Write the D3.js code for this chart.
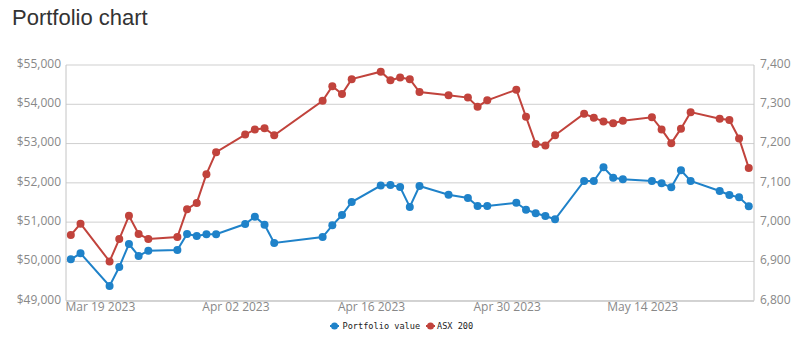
<!DOCTYPE html>
<html>
<head>
<meta charset="utf-8">
<script src="https://cdn.jsdelivr.net/npm/d3@7"></script>
<style>
  html, body { margin: 0; padding: 0; background: #fff; }
  svg { display: block; }
</style>
</head>
<body>
<svg id="chart" width="800" height="341"></svg>
<script>
const dates = [
  "2023-03-16","2023-03-17","2023-03-20","2023-03-21","2023-03-22","2023-03-23","2023-03-24",
  "2023-03-27","2023-03-28","2023-03-29","2023-03-30","2023-03-31",
  "2023-04-03","2023-04-04","2023-04-05","2023-04-06",
  "2023-04-11","2023-04-12","2023-04-13","2023-04-14",
  "2023-04-17","2023-04-18","2023-04-19","2023-04-20","2023-04-21",
  "2023-04-24","2023-04-26","2023-04-27","2023-04-28",
  "2023-05-01","2023-05-02","2023-05-03","2023-05-04","2023-05-05",
  "2023-05-08","2023-05-09","2023-05-10","2023-05-11","2023-05-12",
  "2023-05-15","2023-05-16","2023-05-17","2023-05-18","2023-05-19",
  "2023-05-22","2023-05-23","2023-05-24","2023-05-25"
];
const portfolioValue = [
  50054, 50206, 49374, 49858, 50443, 50138, 50272,
  50290, 50698, 50647, 50690, 50690,
  50952, 51138, 50934, 50468,
  50621, 50919, 51181, 51512,
  51932, 51945, 51894, 51385, 51920,
  51698, 51614, 51410, 51410,
  51494, 51316, 51225, 51156, 51072,
  52047, 52047, 52396, 52131, 52090,
  52047, 51988, 51886, 52319, 52047,
  51792, 51690, 51632, 51403
];
const asx200 = [
  6967, 6996, 6900, 6957, 7016, 6970, 6957,
  6962, 7033, 7049, 7122, 7178,
  7223, 7236, 7239, 7221,
  7309, 7346, 7326, 7364,
  7383, 7361, 7368, 7364, 7331,
  7323, 7317, 7294, 7310,
  7337, 7268, 7199, 7195, 7221,
  7276, 7266, 7256, 7252, 7258,
  7267, 7236, 7201, 7238, 7280,
  7263, 7260, 7213, 7138
];
const leftTicks = [49000, 50000, 51000, 52000, 53000, 54000, 55000];
const rightTicks = [6800, 6900, 7000, 7100, 7200, 7300, 7400];
const xTickDates = ["2023-03-19","2023-04-02","2023-04-16","2023-04-30","2023-05-14"];
const seriesNames = ["Portfolio value", "ASX 200"];
const seriesColors = ["#1f82c9", "#c1433c"];

const parse = d3.utcParse("%Y-%m-%d");
const X = dates.map(parse);

const svg = d3.select("#chart");
const pLeft = 66, pRight = 754, pTop = 65, pBottom = 300.7;

const x = d3.scaleUtc()
  .domain([Date.UTC(2023,2,15,12), Date.UTC(2023,4,25,13)])
  .range([pLeft, pRight]);
const yL = d3.scaleLinear().domain([49000, 55000]).range([pBottom, pTop]);
const yR = d3.scaleLinear().domain([6800, 7400]).range([pBottom, pTop]);

// title
svg.append("text")
  .attr("x", 12).attr("y", 25)
  .attr("font-family", "Liberation Sans, Arial, sans-serif")
  .attr("font-size", 22)
  .attr("fill", "#333")
  .text("Portfolio chart");

// gridlines
svg.append("g").selectAll("line").data(leftTicks).join("line")
  .attr("x1", pLeft).attr("x2", pRight)
  .attr("y1", d => yL(d)).attr("y2", d => yL(d))
  .attr("stroke", "#cfcfcf").attr("stroke-width", 1);

// axis frame lines
const axisColor = "#c4c4c4";
svg.append("line").attr("x1", pLeft).attr("x2", pLeft).attr("y1", pTop).attr("y2", pBottom)
  .attr("stroke", axisColor);
svg.append("line").attr("x1", pRight).attr("x2", pRight).attr("y1", pTop).attr("y2", pBottom)
  .attr("stroke", axisColor);

const tickFont = "Open Sans, Noto Sans, sans-serif";
const tickColor = "#888";

// left axis
const gL = svg.append("g").attr("transform", `translate(${pLeft},0)`)
  .call(d3.axisLeft(yL).tickValues(leftTicks).tickSize(0).tickPadding(5)
    .tickFormat(d => "$" + d3.format(",")(d)));
gL.select(".domain").remove();
gL.selectAll("text").attr("font-family", tickFont).attr("font-size", 12)
  .attr("fill", tickColor).attr("dy", "0.2em");

// right axis
const gR = svg.append("g").attr("transform", `translate(${pRight},0)`)
  .call(d3.axisRight(yR).tickValues(rightTicks).tickSize(0).tickPadding(6)
    .tickFormat(d3.format(",")));
gR.select(".domain").remove();
gR.selectAll("text").attr("font-family", tickFont).attr("font-size", 12)
  .attr("fill", tickColor).attr("dy", "0.2em");

// bottom axis
const gB = svg.append("g").attr("transform", `translate(0,${pBottom})`)
  .call(d3.axisBottom(x).tickValues(xTickDates.map(parse)).tickSize(0).tickPadding(2)
    .tickFormat(d3.utcFormat("%b %d %Y")));
gB.select(".domain").attr("stroke", axisColor).attr("d", `M${pLeft},0.5H${pRight}`);
gB.selectAll("text").attr("font-family", tickFont).attr("font-size", 12)
  .attr("fill", tickColor);

// series
const series = [
  { name: seriesNames[0], color: seriesColors[0], values: portfolioValue, y: yL },
  { name: seriesNames[1], color: seriesColors[1], values: asx200, y: yR }
];
series.forEach(s => {
  const line = d3.line().x((d, i) => x(X[i])).y(d => s.y(d));
  svg.append("path").datum(s.values)
    .attr("d", line).attr("fill", "none")
    .attr("stroke", s.color).attr("stroke-width", 2);
  svg.append("g").selectAll("circle").data(s.values).join("circle")
    .attr("cx", (d, i) => x(X[i])).attr("cy", d => s.y(d))
    .attr("r", 4).attr("fill", s.color);
});

// legend
const legend = svg.append("g").attr("transform", "translate(0,326)");
const legendItems = [
  { cx: 334.5, tx: 342.5 },
  { cx: 430.5, tx: 437 }
];
series.forEach((s, i) => {
  const it = legendItems[i];
  legend.append("line").attr("x1", it.cx - 4.5).attr("x2", it.cx + 4.5)
    .attr("y1", 0).attr("y2", 0).attr("stroke", s.color).attr("stroke-width", 2);
  legend.append("circle").attr("cx", it.cx).attr("cy", 0).attr("r", 3.5).attr("fill", s.color);
  legend.append("text").attr("x", it.tx).attr("y", 3)
    .attr("font-family", "DejaVu Sans Mono, monospace").attr("font-size", 8.6)
    .attr("fill", "#222").text(s.name);
});
</script>
</body>
</html>
